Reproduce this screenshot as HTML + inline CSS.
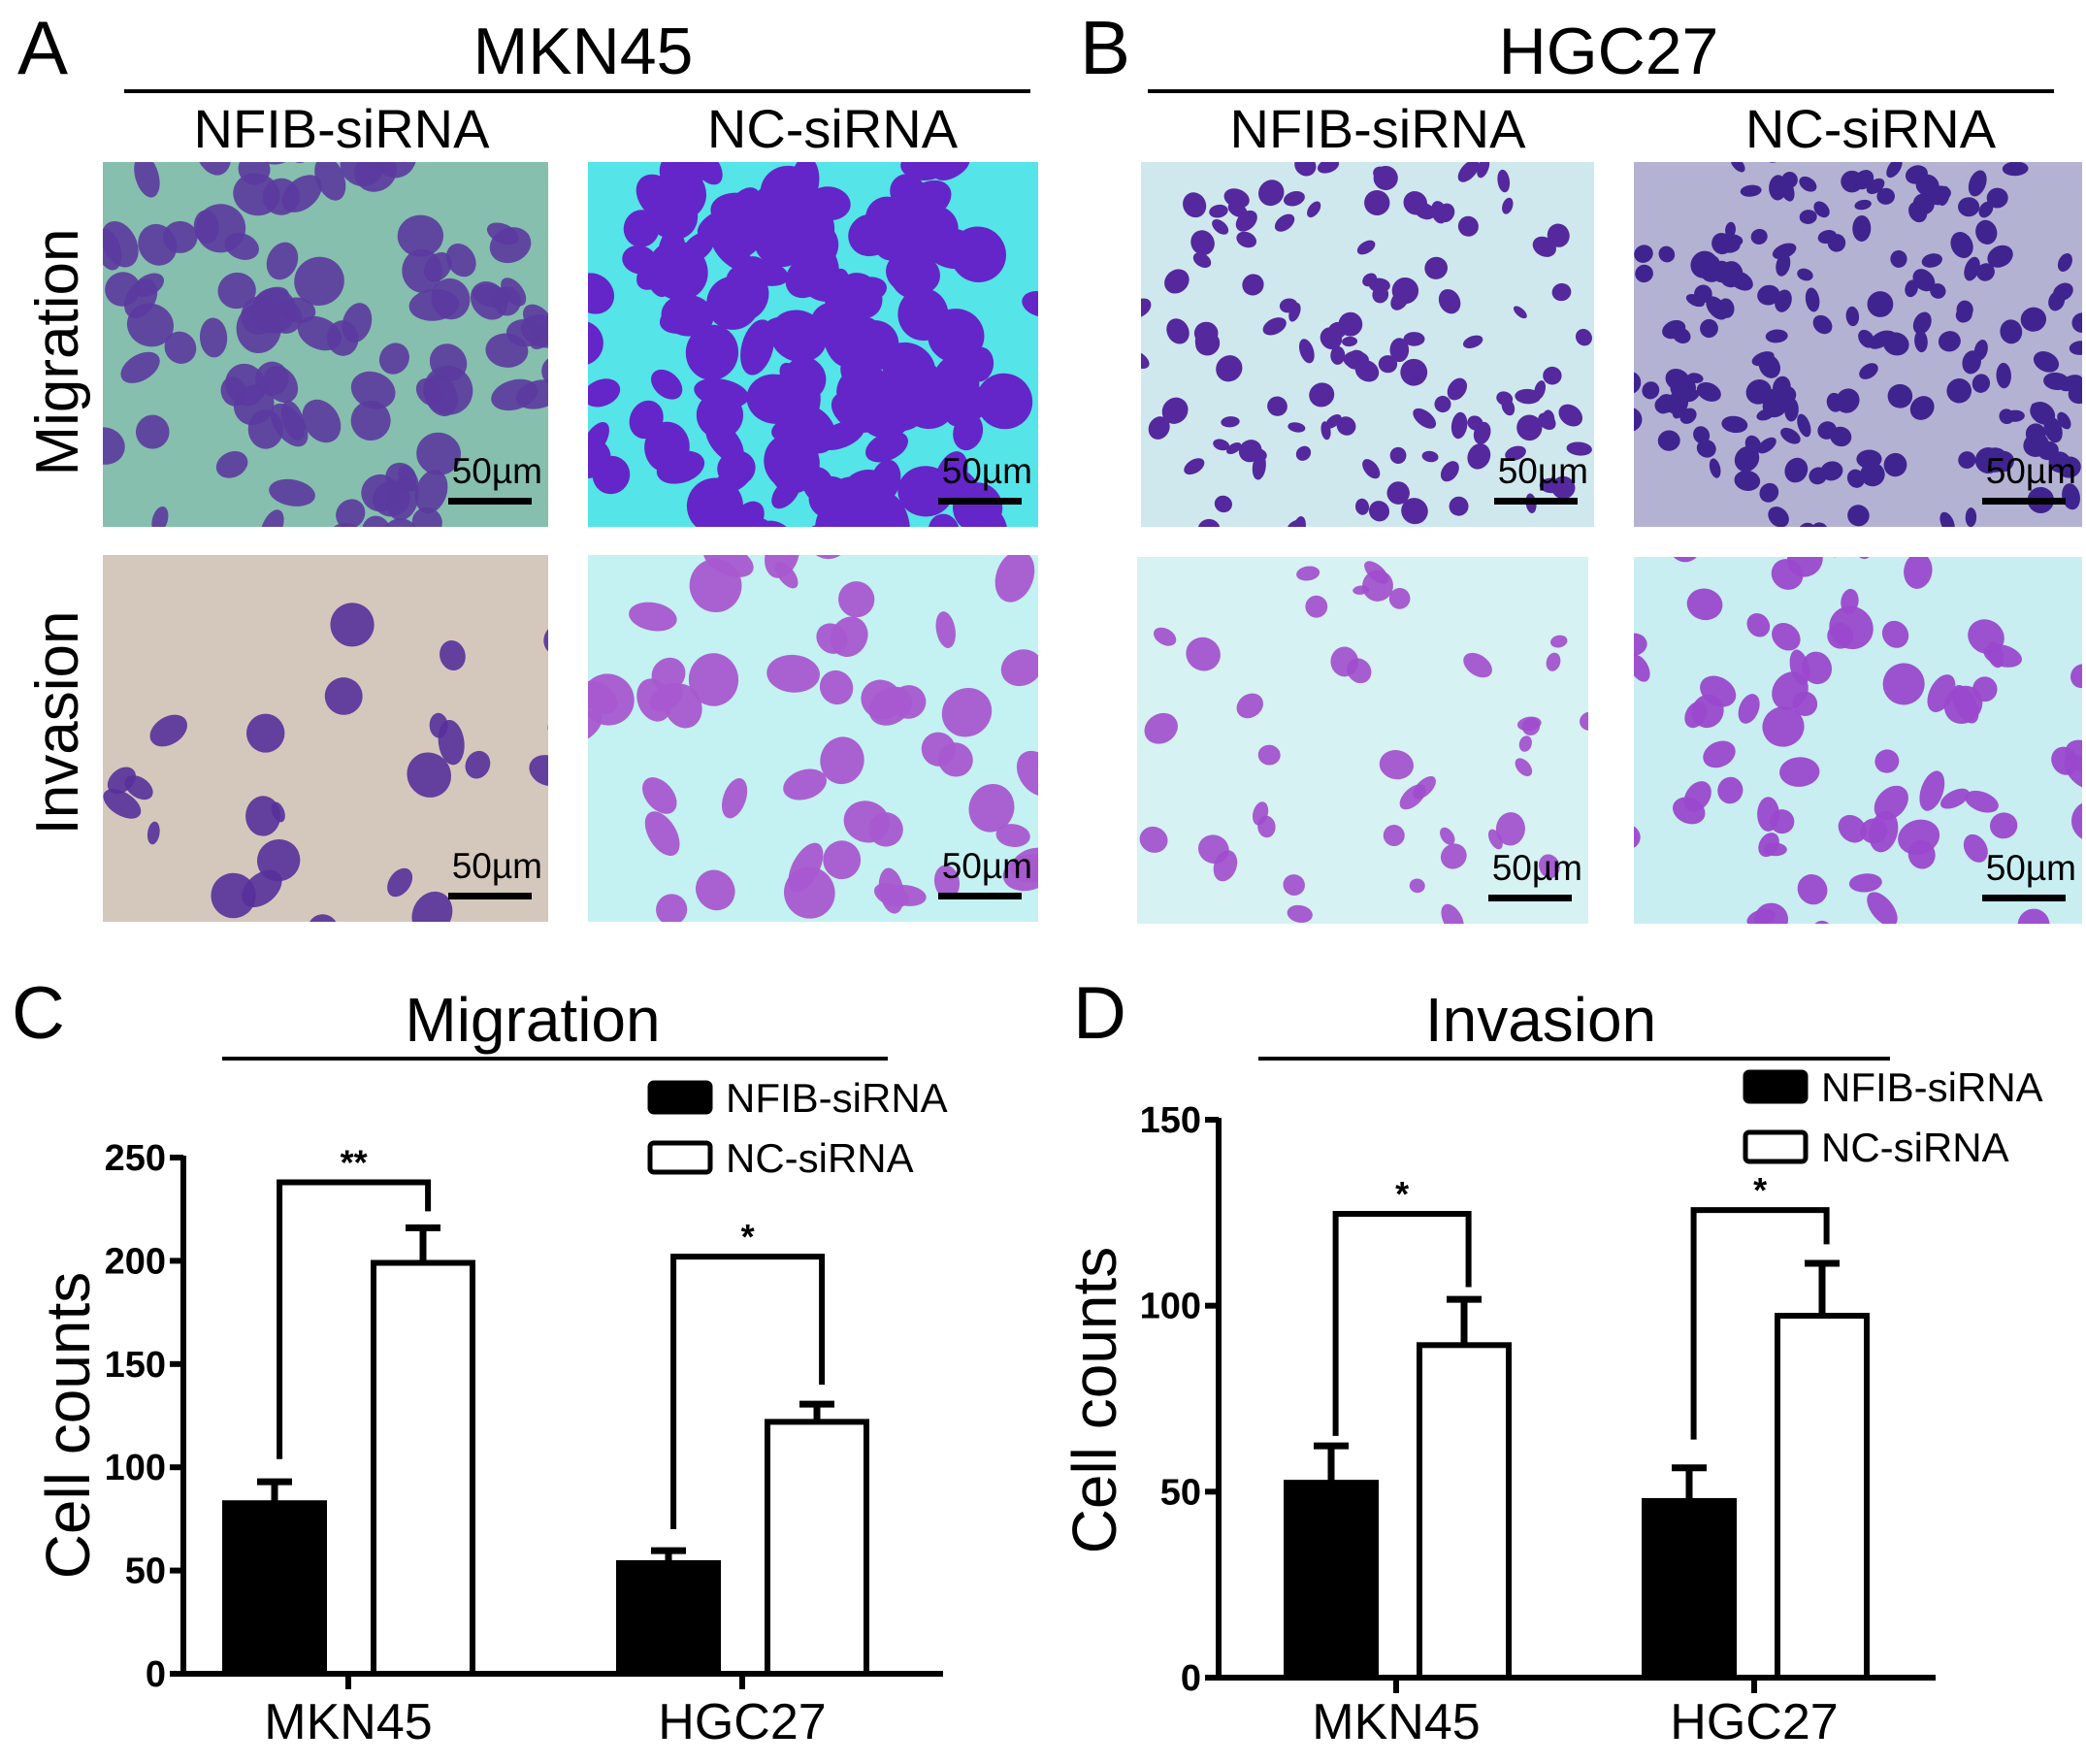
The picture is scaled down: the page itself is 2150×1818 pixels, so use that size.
<!DOCTYPE html>
<html><head><meta charset="utf-8">
<style>
html,body{margin:0;padding:0;background:#fff;}
body{width:2150px;height:1818px;position:relative;overflow:hidden;font-family:"Liberation Sans",Arial,sans-serif;}
svg{position:absolute;left:0;top:0;}
</style></head>
<body>
<svg id="fig" width="2150" height="1818" viewBox="0 0 2150 1818" xmlns="http://www.w3.org/2000/svg">
<g font-family="Liberation Sans, Arial, sans-serif" fill="#000">
  <text x="18" y="76" font-size="78">A</text>
  <text x="601" y="76" font-size="68" text-anchor="middle">MKN45</text>
  <rect x="128" y="92" width="934" height="4"/>
  <text x="352" y="152" font-size="56" text-anchor="middle">NFIB-siRNA</text>
  <text x="858" y="152" font-size="56" text-anchor="middle">NC-siRNA</text>
  <text x="1113" y="76" font-size="78">B</text>
  <text x="1658" y="76" font-size="68" text-anchor="middle">HGC27</text>
  <rect x="1183" y="92" width="934" height="4"/>
  <text x="1420" y="152" font-size="56" text-anchor="middle">NFIB-siRNA</text>
  <text x="1928" y="152" font-size="56" text-anchor="middle">NC-siRNA</text>
  <text transform="translate(80,363) rotate(-90)" font-size="62" text-anchor="middle">Migration</text>
  <text transform="translate(80,745) rotate(-90)" font-size="62" text-anchor="middle">Invasion</text>
</g>
<g id="micro"></g>
<g id="chartC"></g>
<g id="chartD"></g>
</svg>
<script>
// ---- Chart C (Migration) data ----
const migCategories = ['MKN45', 'HGC27'];
const migNFIB = [82.6, 53.6];
const migNFIBErr = [10.4, 6.0];
const migNC = [199, 122];
const migNCErr = [17, 8.6];
const migBracketTop = [238, 202];
const migBracketLeft = [104, 70];
const migBracketRight = [224, 140];
const migStars = ['**', '*'];
const migTicks = [0, 50, 100, 150, 200, 250];
// ---- Chart D (Invasion) data ----
const invCategories = ['MKN45', 'HGC27'];
const invNFIB = [52.4, 47.5];
const invNFIBErr = [9.9, 8.9];
const invNC = [89.4, 97.3];
const invNCErr = [12.3, 14.1];
const invBracketTop = [124.7, 125.7];
const invBracketLeft = [65, 64];
const invBracketRight = [105, 116.5];
const invStars = ['*', '*'];
const invTicks = [0, 50, 100, 150];

const NS = 'http://www.w3.org/2000/svg';
function mk(tag, attrs, parent) {
  const e = document.createElementNS(NS, tag);
  for (const k in attrs) e.setAttribute(k, attrs[k]);
  parent.appendChild(e);
  return e;
}

// ---- Micrographs ----
let seed = 12345;
function rnd() { seed = (seed * 1103515245 + 12345) % 2147483648; return seed / 2147483648; }
const micro = document.getElementById('micro');
const panels = [
  {n:'mkn45-nfib-migration', x:106, y:167, w:459, h:376, bg:'#86bfae', cell:'#5b3a9e', count:95, r:[14,26], op:0.9},
  {n:'mkn45-nc-migration', x:606, y:167, w:464, h:376, bg:'#55e4e8', cell:'#6426c8', count:160, r:[18,30], op:1},
  {n:'mkn45-nfib-invasion', x:106, y:572, w:459, h:378, bg:'#d4c8bc', cell:'#56309a', count:28, r:[10,24], op:0.9},
  {n:'mkn45-nc-invasion', x:606, y:572, w:464, h:378, bg:'#c4f2f2', cell:'#a858d0', count:50, r:[16,28], op:0.95},
  {n:'hgc27-nfib-migration', x:1176, y:167, w:467, h:376, bg:'#cfe8ee', cell:'#55289e', count:130, r:[8,14], op:1},
  {n:'hgc27-nc-migration', x:1684, y:167, w:462, h:376, bg:'#b4b2d2', cell:'#3f2490', count:190, r:[8,14], op:1},
  {n:'hgc27-nfib-invasion', x:1172, y:574, w:465, h:378, bg:'#d6f2f2', cell:'#a04ccc', count:45, r:[8,18], op:0.9},
  {n:'hgc27-nc-invasion', x:1684, y:574, w:462, h:378, bg:'#c8eef2', cell:'#9a48cc', count:75, r:[12,22], op:0.95}
];
panels.forEach(p => {
  const g = mk('g', {}, micro);
  
  
  mk('rect', {x:p.x, y:p.y, width:p.w, height:p.h, fill:p.bg}, g);
  const cp = 'clip-' + p.n;
  const cl = mk('clipPath', {id:cp}, g);
  mk('rect', {x:p.x, y:p.y, width:p.w, height:p.h}, cl);
  const cg = mk('g', {'clip-path':'url(#'+cp+')'}, g);
  for (let i = 0; i < p.count; i++) {
    const rx = p.r[0] + rnd()*(p.r[1]-p.r[0]);
    const ry = rx*(0.5+rnd()*0.6);
    mk('ellipse', {cx:(p.x+rnd()*p.w).toFixed(1), cy:(p.y+rnd()*p.h).toFixed(1), rx:rx.toFixed(1), ry:ry.toFixed(1),
      transform:'rotate('+(rnd()*180).toFixed(0)+' '+(p.x+p.w/2)+' '+(p.y+p.h/2)+')', fill:p.cell, opacity:p.op}, cg);
  }
  const t = mk('text', {x:p.x+p.w-6, y:p.y+p.h-45, 'font-size':37, 'text-anchor':'end', 'font-family':'Liberation Sans, Arial, sans-serif'}, g);
  t.textContent = '50µm';
  
  
  const b = mk('rect', {x:p.x+p.w-103, y:p.y+p.h-30, width:86, height:7, fill:'#000'}, g);
  
  
});

// ---- Bar chart builder ----
function buildChart(cfg) {
  const root = document.getElementById(cfg.id);
  const yS = v => cfg.y0 - (v / cfg.yMax) * (cfg.y0 - cfg.yTop);
  const SW = 6;
  const lab = mk('text', {x:cfg.labelX, y:1070, 'font-size':76}, root);
  lab.textContent = cfg.letter;
  
  
  const tt = mk('text', {x:cfg.titleX, y:1073, 'font-size':64, 'text-anchor':'middle'}, root);
  tt.textContent = cfg.title;
  
  
  const tl = mk('rect', {x:cfg.lineX1, y:1089, width:cfg.lineX2-cfg.lineX1, height:4}, root);
  
  
  const ya = mk('line', {x1:cfg.x0, y1:yS(cfg.yMax)-2, x2:cfg.x0, y2:cfg.y0, stroke:'#000', 'stroke-width':SW}, root);
  
  
  const xa = mk('line', {x1:cfg.x0-14, y1:cfg.y0, x2:cfg.xEnd, y2:cfg.y0, stroke:'#000', 'stroke-width':SW}, root);
  
  
  cfg.ticks.forEach(v => {
    const y = yS(v);
    mk('line', {x1:cfg.x0-14, y1:y, x2:cfg.x0, y2:y, stroke:'#000', 'stroke-width':SW}, root);
    const t = mk('text', {x:cfg.x0-18, y:y+13, 'font-size':38, 'font-weight':'bold', 'text-anchor':'end'}, root);
    t.textContent = v;
    
    
  });
  const yt = mk('text', {transform:'translate('+cfg.yTitleX+','+cfg.yTitleY+') rotate(-90)', 'font-size':64, 'text-anchor':'middle'}, root);
  yt.textContent = 'Cell counts';
  
  
  cfg.cats.forEach((c, i) => {
    const cx = cfg.centers[i];
    mk('line', {x1:cx, y1:cfg.y0, x2:cx, y2:cfg.y0+16, stroke:'#000', 'stroke-width':SW}, root);
    const t = mk('text', {x:cx, y:1792, 'font-size':52, 'text-anchor':'middle'}, root);
    t.textContent = c;
    
    
    const bl = cx - cfg.off1, wl = cx + cfg.off2, bw = cfg.bw;
    [[bl, cfg.a[i], cfg.ae[i]], [wl, cfg.b[i], cfg.be[i]]].forEach(([x, v, e]) => {
      const mx = x + bw/2;
      const eb = mk('path', {d:'M'+mx+' '+yS(v)+' V'+yS(v+e)+' M'+(mx-18)+' '+yS(v+e)+' H'+(mx+18), stroke:'#000', 'stroke-width':SW+1, fill:'none'}, root);
      
      
    });
    const r1 = mk('rect', {x:bl, y:yS(cfg.a[i]), width:bw, height:cfg.y0-yS(cfg.a[i]), fill:'#000', stroke:'#000', 'stroke-width':SW}, root);
    
    
    const r2 = mk('rect', {x:wl, y:yS(cfg.b[i]), width:bw, height:cfg.y0-yS(cfg.b[i]), fill:'#fff', stroke:'#000', 'stroke-width':SW}, root);
    
    
    const lx = bl + bw*0.55, rx = wl + bw*0.55;
    const br = mk('path', {d:'M'+lx+' '+yS(cfg.bl[i])+' V'+yS(cfg.bt[i])+' H'+rx+' V'+yS(cfg.br[i]), stroke:'#000', 'stroke-width':SW, fill:'none'}, root);
    
    
    const st = mk('text', {x:(lx+rx)/2, y:yS(cfg.bt[i])-8, 'font-size':36, 'font-weight':'bold', 'text-anchor':'middle'}, root);
    st.textContent = cfg.stars[i];
    
    
  });
  const lg = mk('g', {}, root);
  
  
  mk('rect', {x:cfg.legX, y:cfg.legY, width:62, height:30, rx:4, fill:'#000', stroke:'#000', 'stroke-width':5}, lg);
  mk('rect', {x:cfg.legX, y:cfg.legY+62, width:62, height:30, rx:4, fill:'#fff', stroke:'#000', 'stroke-width':5}, lg);
  const l1 = mk('text', {x:cfg.legX+78, y:cfg.legY+30, 'font-size':42}, lg);
  l1.textContent = 'NFIB-siRNA';
  
  
  const l2 = mk('text', {x:cfg.legX+78, y:cfg.legY+92, 'font-size':42}, lg);
  l2.textContent = 'NC-siRNA';
  
  
}

buildChart({id:'chartC', letter:'C', labelX:12, title:'Migration', titleX:549, lineX1:229, lineX2:915,
  x0:189, xEnd:972, y0:1725, yTop:1193, yMax:250, ticks:migTicks, yTitleX:92, yTitleY:1469,
  cats:migCategories, centers:[359, 765], off1:127, off2:26, bw:102,
  a:migNFIB, ae:migNFIBErr, b:migNC, be:migNCErr, bt:migBracketTop, bl:migBracketLeft, br:migBracketRight, stars:migStars,
  legX:670, legY:1116});
buildChart({id:'chartD', letter:'D', labelX:1106, title:'Invasion', titleX:1588, lineX1:1297, lineX2:1948,
  x0:1256, xEnd:1995, y0:1729, yTop:1154, yMax:150, ticks:invTicks, yTitleX:1150, yTitleY:1443,
  cats:invCategories, centers:[1439, 1808], off1:113, off2:24, bw:92,
  a:invNFIB, ae:invNFIBErr, b:invNC, be:invNCErr, bt:invBracketTop, bl:invBracketLeft, br:invBracketRight, stars:invStars,
  legX:1799, legY:1105});
</script>
</body></html>
